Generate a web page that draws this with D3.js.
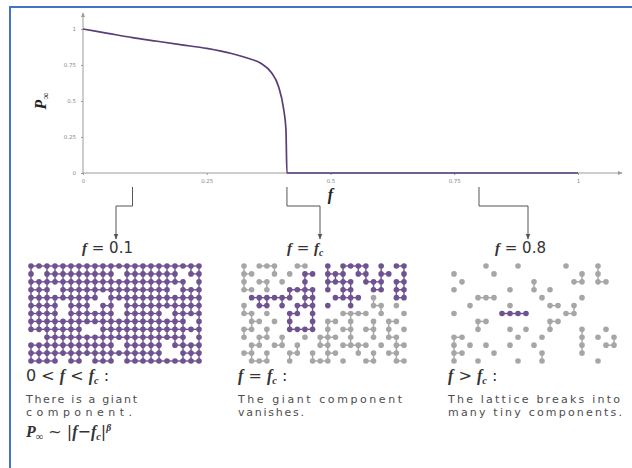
<!DOCTYPE html>
<html>
<head>
<meta charset="utf-8">
<script src="https://cdn.jsdelivr.net/npm/d3@7"></script>
<style>
  body { margin: 0; background: #fff; }
  svg { display: block; }
</style>
</head>
<body>
<svg id="chart" width="632" height="468"></svg>
<script>
// fraction of removed nodes f  vs  size of giant component P_inf
const fRemoved  = [0, 0.05, 0.1, 0.15, 0.2, 0.25, 0.3, 0.33, 0.36, 0.38, 0.395, 0.405, 0.41, 0.412, 1];
const pGiant    = [1, 0.97, 0.94, 0.915, 0.89, 0.865, 0.83, 0.8, 0.76, 0.7, 0.6, 0.45, 0.3, 0, 0];
const xTicks = [0, 0.25, 0.5, 0.75, 1];
const yTicks = [0, 0.25, 0.5, 0.75, 1];
const fc = 0.412;
const calloutF = [0.1, fc, 0.8];

// lattices: x = giant component, o = small cluster, . = removed
const latticeLow = [
  "xxxxxxxxxxxxxxxxxxxxxx",
  "x.xxxxxxxxx.xxxxxxx.xx",
  "xxxxxxxxxxxxxxxxxxxx.x",
  "xxx.xxxxxxxxxxxxxx.xxx",
  "xxxxxxxxx.xxxxxxxxxxxx",
  "xxxx.xxx.xx.xxxxxxxxxx",
  "xxxx.xxxxxx.xxxxx.xxxx",
  "xxxxxxxxxxxxxxxxxxxx.x",
  "xxxxxxx..xxxxxxxxxxxxx",
  "..xxxxxxxxxxxxxxxxxx.x",
  "xxxxxxxxxxx.xxxxx.xxxx",
  "xxxxxxxxxxxxxxxxx..xxx",
  "xxxx.xx.xxx.xxxxxxxxxx"
];
const latticeCrit = [
  "o.ooo..oo..x.xxxx.x.xx",
  "oo..o.o.xx.xxx.xx.xx.x",
  "o.oo.o..x..xxxx.xxx.xx",
  "oo.o..xxxx.x.xx..xx.xx",
  ".xxxxxx.xx..xxxx.o..xx",
  "o.xx.x.xxx.x..x..oo.o.",
  "oo.o..xx.x...oooo.o..o",
  ".oo.o.x..x.oo.o..o.oo.",
  "oo.o..xxxx.o.oo.oo.o.o",
  "o.oo.o..o.ooo.o..o.oo.",
  ".oo.oo.o..oo.oooo.o.oo",
  "oo.o..oo.o.oo..o.o.oo.",
  ".ooo..o..ooo.o..oo..oo"
];
const latticeHigh = [
  "....o...o.....o...o...",
  "o....o..........o.o...",
  ".o........o....oo.oo..",
  "o......o..o.o.........",
  "...ooo.....o....o.....",
  "..o....o....oo.o......",
  "o.....xxxx....oo......",
  "...oo.......oo........",
  "...o...o.o..o...o..o..",
  "oo......o..o....o.o.o.",
  "o.o.o..o..o.....o..oo.",
  "oo...o.....o....o.....",
  "o..o....o..o......o..."
];

const svg = d3.select("#chart");
const purple = "#6f5290", lineCol = "#5a3d75", grey = "#a6a6a6", axisCol = "#9a9a9a";

svg.append("rect").attr("width", 632).attr("height", 468).attr("fill", "#fff");
// blue frame (right and bottom edges fall outside the picture)
svg.append("rect").attr("x", 10).attr("y", 7).attr("width", 700).attr("height", 600)
  .attr("fill", "none").attr("stroke", "#4472c4").attr("stroke-width", 2);

const defs = svg.append("defs");
defs.append("marker").attr("id", "axArrow").attr("viewBox", "0 0 10 10")
  .attr("refX", 8).attr("refY", 5).attr("markerWidth", 5).attr("markerHeight", 5)
  .attr("orient", "auto").append("path").attr("d", "M0,1L9,5L0,9Z").attr("fill", axisCol);
defs.append("marker").attr("id", "callArrow").attr("viewBox", "0 0 10 10")
  .attr("refX", 9).attr("refY", 5).attr("markerWidth", 6).attr("markerHeight", 6)
  .attr("orient", "auto").append("path").attr("d", "M0,1L10,5L0,9Z").attr("fill", "#555");

const x = d3.scaleLinear().domain([0, 1]).range([83, 578]);
const y = d3.scaleLinear().domain([0, 1]).range([173, 29]);

// axis lines with arrows
svg.append("line").attr("x1", x(0)).attr("x2", 622).attr("y1", y(0)).attr("y2", y(0))
  .attr("stroke", axisCol).attr("marker-end", "url(#axArrow)");
svg.append("line").attr("x1", x(0)).attr("x2", x(0)).attr("y1", y(0)).attr("y2", 13)
  .attr("stroke", axisCol).attr("marker-end", "url(#axArrow)");

const gx = svg.append("g").attr("transform", `translate(0,${y(0)})`)
  .call(d3.axisBottom(x).tickValues(xTicks).tickSize(2).tickPadding(4).tickFormat(String));
const gy = svg.append("g").attr("transform", `translate(${x(0)},0)`)
  .call(d3.axisLeft(y).tickValues(yTicks).tickSize(2).tickPadding(5).tickFormat(String));
[gx, gy].forEach(g => {
  g.select(".domain").remove();
  g.selectAll(".tick line").attr("stroke", axisCol);
  g.selectAll(".tick text").attr("fill", "#8a8a8a").style("font-size", "5.5px")
    .style("font-family", "DejaVu Sans");
});

// curve
const pts = fRemoved.map((f, i) => [f, pGiant[i]]);
svg.append("path").datum(pts)
  .attr("d", d3.line().x(d => x(d[0])).y(d => y(d[1])).curve(d3.curveMonotoneX))
  .attr("fill", "none").attr("stroke", lineCol).attr("stroke-width", 1.7);

// axis titles
svg.append("text").attr("transform", "translate(46,101) rotate(-90)")
  .attr("text-anchor", "middle").attr("fill", "#222")
  .style("font-family", "Liberation Serif").style("font-style", "italic").style("font-weight", "bold")
  .style("font-size", "16px")
  .call(t => { t.append("tspan").text("P"); t.append("tspan").attr("dy", 3).style("font-size", "10px").text("∞"); });
svg.append("text").attr("x", x(0.5)).attr("y", 200).attr("text-anchor", "middle").attr("fill", "#222")
  .style("font-family", "Liberation Serif").style("font-style", "italic").style("font-weight", "bold")
  .style("font-size", "16px").text("f");

// callouts
const labelX = [116, 320, 528];
calloutF.forEach((f, i) => {
  const x0 = x(f), x1 = labelX[i];
  svg.append("path").attr("d", `M${x0},187V206H${x1}V239`)
    .attr("fill", "none").attr("stroke", "#555").attr("stroke-width", 1)
    .attr("marker-end", "url(#callArrow)");
});

function mathText(g, xPos, yPos, parts, size) {
  const t = g.append("text").attr("x", xPos).attr("y", yPos).attr("fill", "#333")
    .style("font-size", size + "px");
  parts.forEach(p => {
    const s = t.append("tspan").text(p.t);
    if (p.it) s.style("font-family", "Liberation Serif").style("font-style", "italic").style("font-weight", "bold");
    else s.style("font-family", "DejaVu Sans");
    if (p.sub) s.attr("dy", 3).style("font-size", (size * 0.65) + "px");
    if (p.up) s.attr("dy", -3);
    if (p.sup) s.attr("dy", -6).style("font-size", (size * 0.6) + "px");
    if (p.dy) s.attr("dy", p.dy);
  });
  return t;
}

const calloutLabels = [
  [{ t: "f", it: 1 }, { t: "  = 0.1" }],
  [{ t: "f", it: 1 }, { t: "  =  " }, { t: "f", it: 1 }, { t: "c", it: 1, sub: 1 }],
  [{ t: "f", it: 1 }, { t: "  = 0.8" }]
];
const calloutLabelX = [82, 287, 495];
calloutLabels.forEach((p, i) => mathText(svg, calloutLabelX[i], 253, p, 15));

// lattices
const panels = [
  { rows: latticeLow, x0: 31, x1: 199 },
  { rows: latticeCrit, x0: 244, x1: 404 },
  { rows: latticeHigh, x0: 454, x1: 622 }
];
panels.forEach(p => {
  const nR = p.rows.length, nC = p.rows[0].length;
  const cx = d3.scalePoint().domain(d3.range(nC)).range([p.x0, p.x1]);
  const cy = d3.scalePoint().domain(d3.range(nR)).range([266, 361]);
  const cells = [];
  p.rows.forEach((row, r) => row.split("").forEach((c, k) => { if (c !== ".") cells.push({ r, k, c }); }));
  const at = (r, k) => (p.rows[r] && p.rows[r][k]) || ".";
  const bonds = [];
  cells.forEach(d => {
    if (at(d.r, d.k + 1) === d.c) bonds.push({ a: d, r2: d.r, k2: d.k + 1 });
    if (at(d.r + 1, d.k) === d.c) bonds.push({ a: d, r2: d.r + 1, k2: d.k });
  });
  const g = svg.append("g");
  g.selectAll("line").data(bonds).join("line")
    .attr("x1", d => cx(d.a.k)).attr("y1", d => cy(d.a.r))
    .attr("x2", d => cx(d.k2)).attr("y2", d => cy(d.r2))
    .attr("stroke", d => d.a.c === "x" ? purple : grey).attr("stroke-width", 1.4);
  g.selectAll("circle").data(cells).join("circle")
    .attr("cx", d => cx(d.k)).attr("cy", d => cy(d.r)).attr("r", 2.8)
    .attr("fill", d => d.c === "x" ? purple : grey);
});

// captions
const headX = [26, 238, 448];
const heads = [
  [{ t: "0 < " }, { t: "f", it: 1 }, { t: " < " }, { t: "f", it: 1 }, { t: "c", it: 1, sub: 1 }, { t: " :", up: 1 }],
  [{ t: "f", it: 1 }, { t: "  =  " }, { t: "f", it: 1 }, { t: "c", it: 1, sub: 1 }, { t: " :", up: 1 }],
  [{ t: "f", it: 1 }, { t: " > " }, { t: "f", it: 1 }, { t: "c", it: 1, sub: 1 }, { t: " :", up: 1 }]
];
heads.forEach((p, i) => mathText(svg, headX[i], 381, p, 16));

const descLines = [
  ["There is a giant", "component."],
  ["The giant component", "vanishes."],
  ["The lattice breaks into", "many tiny components."]
];
const descWidths = [[111, 106], [164, 66], [172, 174]];
descLines.forEach((lines, i) => lines.forEach((s, j) => {
  svg.append("text").attr("x", headX[i]).attr("y", 403 + j * 13)
    .attr("textLength", descWidths[i][j]).attr("lengthAdjust", "spacing")
    .attr("fill", "#4d4d4d").style("font-family", "DejaVu Sans").style("font-size", "11px").text(s);
}));

mathText(svg, 26, 437, [
  { t: "P", it: 1 }, { t: "∞", it: 1, sub: 1 }, { t: " ~ ", dy: -3 }, { t: "|" }, { t: "f", it: 1 },
  { t: "−" }, { t: "f", it: 1 }, { t: "c", it: 1, sub: 1 }, { t: "|", dy: -3 }, { t: "β", it: 1, sup: 1 }
], 16);
</script>
</body>
</html>
